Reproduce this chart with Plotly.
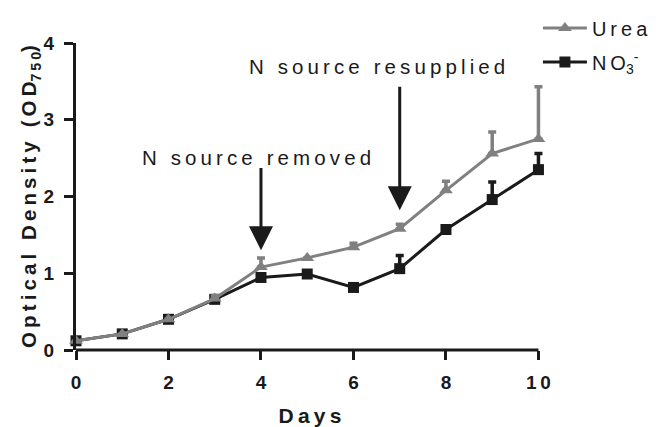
import plotly.graph_objects as go

days = [0, 1, 2, 3, 4, 5, 6, 7, 8, 9, 10]
urea = [0.12, 0.21, 0.40, 0.67, 1.08, 1.20, 1.34, 1.58, 2.08, 2.56, 2.75]
urea_err = [0.0, 0.0, 0.0, 0.04, 0.12, 0.0, 0.05, 0.06, 0.12, 0.28, 0.68]
nitrate = [0.12, 0.21, 0.40, 0.66, 0.945, 0.99, 0.815, 1.06, 1.57, 1.96, 2.35]
nitrate_err = [0.0, 0.0, 0.0, 0.0, 0.03, 0.0, 0.0, 0.17, 0.05, 0.23, 0.21]
x_ticks = [0, 2, 4, 6, 8, 10]
y_ticks = [0, 1, 2, 3, 4]
events = [
    {"label": "N source removed", "day": 4, "text_x": 3.91, "text_y": 2.51, "tail": 2.39, "tip": 1.30},
    {"label": "N source resupplied", "day": 7, "text_x": 6.51, "text_y": 3.69, "tail": 3.45, "tip": 1.82},
]

FONT = "Liberation Sans, Arial, sans-serif"
GRAY = "#808080"
INK = "#1a1a1a"


def sp(s):
    return "\u2009".join(list(s))


fig = go.Figure()
fig.add_trace(go.Scatter(
    x=days, y=nitrate, mode="lines+markers",
    name=sp("NO") + "<sub>3</sub><sup>-</sup>",
    line=dict(color=INK, width=3),
    marker=dict(symbol="square", size=11, color=INK),
    error_y=dict(type="data", array=nitrate_err, arrayminus=[0] * len(days), symmetric=False,
                 color=INK, thickness=3.5, width=4),
    cliponaxis=False, legendgroup="b", legendrank=2,
))
fig.add_trace(go.Scatter(
    x=days, y=urea, mode="lines+markers", name=sp("Urea"),
    line=dict(color=GRAY, width=3),
    marker=dict(symbol="triangle-up", size=12, color=GRAY),
    error_y=dict(type="data", array=urea_err, arrayminus=[0] * len(days), symmetric=False,
                 color=GRAY, thickness=3.5, width=4),
    cliponaxis=False, legendgroup="a", legendrank=1,
))

for ev in events:
    fig.add_annotation(
        x=ev["day"], y=ev["tip"], ax=ev["day"], ay=ev["tail"], axref="x", ayref="y",
        xref="x", yref="y", text="", showarrow=True,
        arrowhead=2, arrowsize=1.6, arrowwidth=3, arrowcolor=INK,
    )
    fig.add_annotation(
        x=ev["text_x"], y=ev["text_y"], xref="x", yref="y", text=sp(ev["label"]),
        showarrow=False, font=dict(family=FONT, size=20.5, color=INK),
    )

# x axis line drawn as a shape so that end error bars are not clipped
fig.add_shape(type="line", xref="x", yref="paper", x0=0, x1=10, y0=0, y1=0,
              line=dict(color=INK, width=3), layer="above")

fig.update_layout(
    width=656, height=427,
    margin=dict(l=76, r=112, t=43, b=77, autoexpand=False),
    paper_bgcolor="white", plot_bgcolor="white",
    font=dict(family=FONT, color=INK),
    legend=dict(x=0.987, y=1.112, xanchor="left", yanchor="top", traceorder="grouped",
                tracegroupgap=5, font=dict(size=20, family=FONT), bgcolor="rgba(0,0,0,0)",
                itemwidth=44),
    xaxis=dict(range=[0, 10.12], tickvals=x_ticks,
               ticktext=["<b>" + sp(str(v)) + "</b>" for v in x_ticks],
               showline=False, ticks="outside", automargin=False,
               ticklen=9, tickwidth=3, tickcolor=INK, showgrid=False, zeroline=False,
               ticklabelstandoff=6,
               tickfont=dict(size=19, family=FONT, color=INK),
               title=dict(text="<b>" + sp("Days") + "</b>", font=dict(size=21, family=FONT), standoff=18)),
    yaxis=dict(range=[0, 4], tickvals=y_ticks, ticktext=["<b>" + str(v) + "</b>" for v in y_ticks],
               showline=True, linecolor=INK, linewidth=3, ticks="outside", automargin=False,
               ticklen=9, tickwidth=3, tickcolor=INK, showgrid=False, zeroline=False,
               ticklabelstandoff=6,
               tickfont=dict(size=19, family=FONT, color=INK),
               title=dict(text="<b>" + sp("Optical Density (OD") + "<sub>" + sp("750") + "</sub>)</b>",
                          font=dict(size=20.5, family=FONT), standoff=1)),
)

fig.write_html("out.html")
